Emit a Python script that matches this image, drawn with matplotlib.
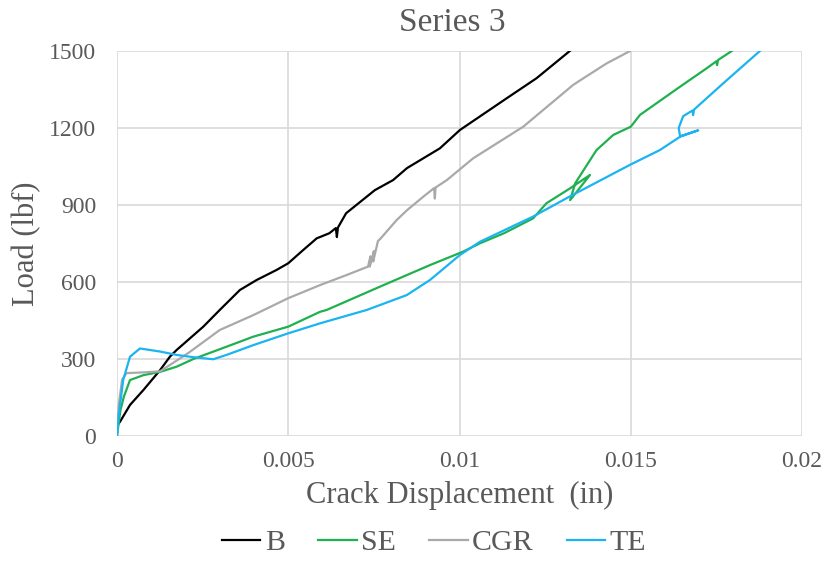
import matplotlib
matplotlib.use("Agg")
import matplotlib.pyplot as plt

plt.rcParams['font.family'] = ['Liberation Serif', 'DejaVu Serif']

# Load vs. crack displacement for each specimen
b_disp = [0.0, 0.00009, 0.00038, 0.00077, 0.00126, 0.00155, 0.00174, 0.00252, 0.0030,
          0.00359, 0.00408, 0.00466, 0.0050, 0.00544, 0.00583, 0.0062, 0.00639,
          0.00642, 0.00645, 0.00669, 0.00753, 0.00806, 0.00847, 0.00943, 0.01001,
          0.01138, 0.01225, 0.01322]
b_load = [40, 56, 121, 179, 257, 310, 335, 426, 491,
          569, 608, 647, 673, 725, 770, 790, 810,
          775, 812, 868, 958, 997, 1044, 1121, 1192,
          1316, 1394, 1500]

se_disp = [0.0, 0.0001, 0.0002, 0.00038, 0.00077, 0.00126, 0.00174, 0.00223, 0.0032,
           0.00398, 0.0050, 0.00593, 0.00612, 0.00768, 0.00914, 0.0101, 0.0106,
           0.0113, 0.01215, 0.01254, 0.01323, 0.01381, 0.01323, 0.01338, 0.0140,
           0.01449, 0.0150, 0.01527, 0.01644, 0.01722, 0.0175, 0.01752, 0.01755,
           0.01795]
se_load = [0, 100, 153, 218, 237, 250, 270, 300, 348,
           387, 426, 484, 491, 582, 666, 718, 751,
           790, 848, 907, 965, 1017, 919, 985, 1114,
           1173, 1205, 1251, 1361, 1433, 1460, 1445, 1465,
           1500]

cgr_disp = [0.0, 0.00005, 0.00015, 0.00028, 0.0008, 0.00126, 0.0021, 0.0030,
            0.00398, 0.0050, 0.00593, 0.0067, 0.00733, 0.0074, 0.00738, 0.0075,
            0.00748, 0.00762, 0.00768, 0.00817, 0.00847, 0.00894, 0.00926, 0.00928,
            0.0093, 0.00963, 0.0104, 0.01186, 0.01332, 0.01362, 0.0143, 0.01498]
cgr_load = [0, 120, 220, 245, 248, 252, 325, 413,
            471, 537, 588, 627, 660, 700, 660, 720,
            680, 760, 767, 842, 880, 932, 966, 925,
            968, 997, 1082, 1205, 1368, 1394, 1452, 1500]

te_disp = [0.0, 0.00005, 0.00018, 0.00038, 0.00067, 0.00126, 0.00174, 0.00223, 0.00281,
           0.0032, 0.0040, 0.0050, 0.00593, 0.00729, 0.00846, 0.00914, 0.01001,
           0.0106, 0.01215, 0.01323, 0.0150, 0.01585, 0.01644, 0.01697, 0.01644,
           0.0164, 0.01653, 0.0168, 0.01682, 0.01685, 0.0177, 0.01877]
te_load = [0, 80, 218, 309, 341, 329, 316, 307, 299,
           316, 355, 400, 439, 491, 549, 608, 705,
           757, 855, 934, 1058, 1114, 1166, 1191, 1168,
           1200, 1246, 1268, 1250, 1272, 1374, 1500]

x_ticks = [0, 0.005, 0.01, 0.015, 0.02]
x_tick_labels = ['0', '0.005', '0.01', '0.015', '0.02']
y_ticks = [0, 300, 600, 900, 1200, 1500]

text_color = '#595959'
grid_color = '#d9d9d9'

W, H = 826, 565
fig = plt.figure(figsize=(W / 100, H / 100), dpi=100)
ax_l, ax_r, ax_t, ax_b = 117, 802, 51, 436
ax = fig.add_axes([ax_l / W, 1 - ax_b / H, (ax_r - ax_l) / W, (ax_b - ax_t) / H])

ax.plot(b_disp, b_load, color='#000000', lw=1.6, label='B')
ax.plot(se_disp, se_load, color='#1fb04f', lw=1.6, label='SE')
ax.plot(cgr_disp, cgr_load, color='#a9a9a9', lw=1.6, label='CGR')
ax.plot(te_disp, te_load, color='#1ab4f0', lw=1.6, label='TE')

ax.set_xlim(0, 0.02)
ax.set_ylim(0, 1500)
ax.set_xticks(x_ticks)
ax.set_xticklabels(x_tick_labels)
ax.set_yticks(y_ticks)
ax.grid(True, color=grid_color, lw=1.2)
ax.set_axisbelow(True)
for s in ax.spines.values():
    s.set_visible(False)
ax.tick_params(length=0, labelsize=17, labelcolor=text_color)
ax.tick_params(axis='x', pad=11)
ax.tick_params(axis='y', pad=15)

fig.text(452 / W, 1 - 23 / H, 'Series 3', fontsize=24, color=text_color,
         ha='center', va='center')

ax.set_xlabel('Crack Displacement  (in)', fontsize=22, color=text_color)
ax.xaxis.label.set_va('center')
ax.xaxis.set_label_coords(0.5, -(495 - ax_b) / (ax_b - ax_t))
ax.set_ylabel('Load (lbf)', fontsize=22, color=text_color)
ax.yaxis.label.set_va('center')
ax.yaxis.set_label_coords(-(ax_l - 27) / (ax_r - ax_l), 0.5)

leg = fig.legend(loc='center', bbox_to_anchor=(434 / W, 1 - 543 / H), ncol=4,
                 frameon=False, fontsize=21.5, handlelength=1.3, handletextpad=0.15,
                 columnspacing=1.1)
for t in leg.get_texts():
    t.set_color(text_color)

fig.savefig('out.png', dpi=100)
